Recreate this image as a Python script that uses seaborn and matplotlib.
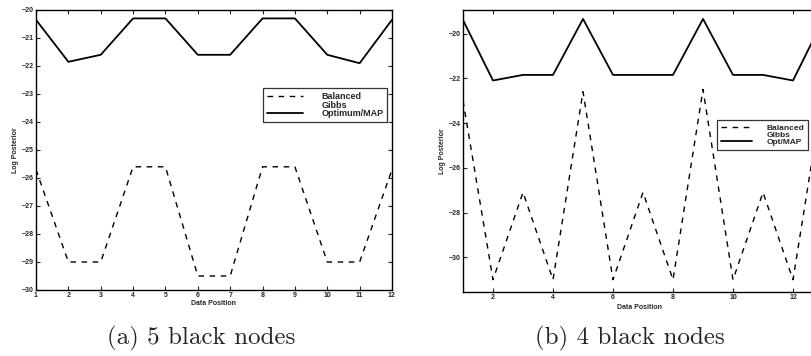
import matplotlib
matplotlib.use("Agg")
import matplotlib.pyplot as plt
from matplotlib.lines import Line2D
import seaborn as sns
import numpy as np

# (a) 5 black nodes
pos_a = list(range(1, 13))
balanced_a = [-25.7, -29.0, -29.0, -25.6, -25.6, -29.5, -29.5, -25.6, -25.6, -29.0, -29.0, -25.7]
optimum_a = [-20.35, -21.85, -21.6, -20.3, -20.3, -21.6, -21.6, -20.3, -20.3, -21.6, -21.9, -20.35]

# (b) 4 black nodes  (last point runs off the right edge of the page)
pos_b = list(range(1, 14))
balanced_b = [-23.0, -31.0, -27.1, -31.0, -22.6, -31.0, -27.1, -31.0, -22.5, -31.0, -27.1, -31.0, -22.6]
optimum_b = [-19.4, -22.1, -21.85, -21.85, -19.35, -21.85, -21.85, -21.85, -19.35, -21.85, -21.85, -22.1, -19.4]

ticks_a = list(range(1, 13))
yticks_a = list(range(-30, -19))
ticks_b = [2, 4, 6, 8, 10, 12]
yticks_b = [-30, -28, -26, -24, -22, -20]

sns.set_style("ticks")
plt.rcParams['font.family'] = ['Liberation Sans', 'DejaVu Sans']

W, H = 812, 356
fig = plt.figure(figsize=(W / 100, H / 100), dpi=100)

def px_axes(x0, y0, x1, y1):
    # pixel box (top-left origin) -> figure axes
    return fig.add_axes([x0 / W, 1 - y1 / H, (x1 - x0) / W, (y1 - y0) / H])

def style_axes(ax):
    ax.tick_params(direction="in", length=3, width=0.8, labelsize=5, pad=1.5,
                   top=True, right=True)
    for s in ax.spines.values():
        s.set_linewidth(1.0)
        s.set_color("black")
    for lab in ax.get_xticklabels() + ax.get_yticklabels():
        lab.set_fontweight("bold")

ax1 = px_axes(36, 10, 392, 290)
sns.lineplot(x=pos_a, y=balanced_a, ax=ax1, color="black", lw=1.0, label="Balanced")
ax1.lines[-1].set_dashes([4, 4])
sns.lineplot(x=pos_a, y=optimum_a, ax=ax1, color="black", lw=1.3, label="Optimum/MAP")
ax1.set_xlim(1, 12)
ax1.set_ylim(-30, -20)
ax1.set_xticks(ticks_a)
ax1.set_yticks(yticks_a)
ax1.set_xlabel("Data Position", fontsize=5, fontweight="bold", labelpad=1)
ax1.set_ylabel("Log Posterior", fontsize=5, fontweight="bold", labelpad=2)
style_axes(ax1)

ax2 = px_axes(463, 10, 816, 292)
sns.lineplot(x=pos_b, y=balanced_b, ax=ax2, color="black", lw=1.0, label="Balanced")
ax2.lines[-1].set_dashes([4, 4])
sns.lineplot(x=pos_b, y=optimum_b, ax=ax2, color="black", lw=1.3, label="Opt/MAP")
ax2.set_xlim(1, 1 + (816 - 463) / 30)
ax2.set_ylim(-31.55, -18.95)
ax2.set_xticks(ticks_b)
ax2.set_yticks(yticks_b)
ax2.set_xlabel("Data Position", fontsize=5, fontweight="bold", labelpad=2)
ax2.set_ylabel("Log Posterior", fontsize=5, fontweight="bold", labelpad=2)
style_axes(ax2)

def make_legend(ax, names, anchor, size, hl, pad):
    h = ax.get_lines()
    handles = [h[0], Line2D([], [], linestyle="none"), h[1]]
    leg = ax.legend(handles, names, loc="upper left", bbox_to_anchor=anchor,
                    bbox_transform=fig.transFigure, fontsize=size, frameon=True,
                    fancybox=False, edgecolor="black", labelspacing=-0.05,
                    handlelength=hl, handletextpad=pad, borderpad=0.45,
                    borderaxespad=0)
    leg.get_frame().set_linewidth(0.9)
    for t in leg.get_texts():
        t.set_fontweight("bold")
    return leg

make_legend(ax1, ["Balanced", "Gibbs", "Optimum/MAP"], (263 / W, 1 - 88 / H), 6.5, 4.0, 2.0)
make_legend(ax2, ["Balanced", "Gibbs", "Opt/MAP"], (717 / W, 1 - 120 / H), 6.0, 3.8, 1.7)

fig.text(201 / W, 1 - 338 / H, "(a) 5 black nodes", family="cmr10", fontsize=18,
         ha="center", va="center")
fig.text(630 / W, 1 - 338 / H, "(b) 4 black nodes", family="cmr10", fontsize=18,
         ha="center", va="center")

fig.savefig("out.png", dpi=100)
